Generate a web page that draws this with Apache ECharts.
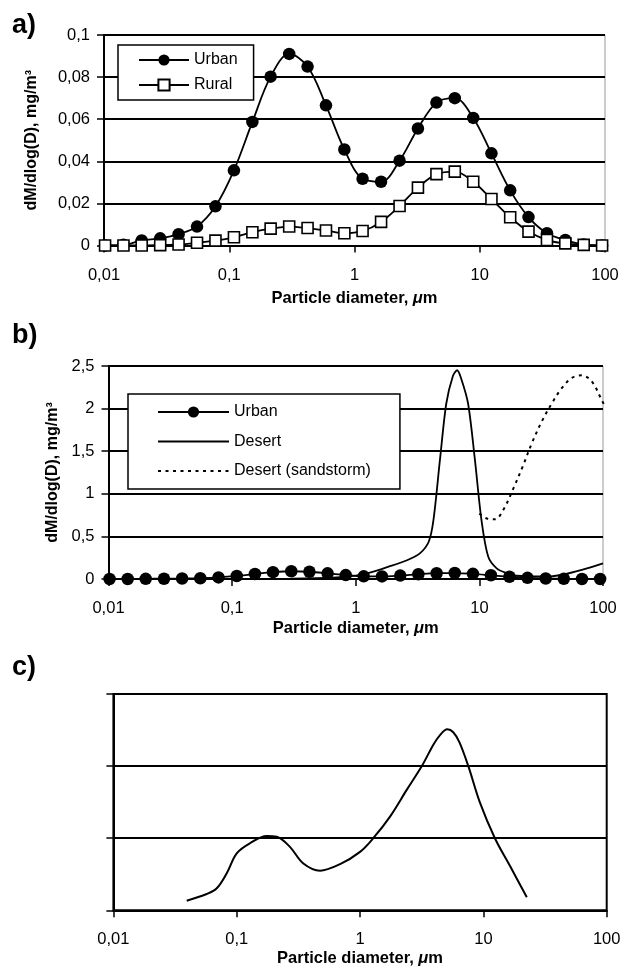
<!DOCTYPE html>
<html><head><meta charset="utf-8">
<script src="https://cdn.jsdelivr.net/npm/echarts@6/dist/echarts.min.js"></script>
<style>html,body{margin:0;padding:0;background:#fff}#c{width:629px;height:969px}</style>
</head><body><div id="c"></div>
<script>
const FONT = "'Liberation Sans', Arial, sans-serif";

// Panel a / b shared diameters (µm)
const diameters = [0.0102, 0.0143, 0.0200, 0.0281, 0.0394, 0.0553, 0.0776, 0.109, 0.153, 0.214, 0.301, 0.422, 0.592, 0.830, 1.16, 1.63, 2.29, 3.21, 4.51, 6.32, 8.87, 12.4, 17.5, 24.5, 34.4, 48.2, 67.6, 94.8];
const urbanValues = [0, 0.0003, 0.0024, 0.0034, 0.0054, 0.009, 0.0186, 0.0357, 0.0587, 0.0802, 0.091, 0.085, 0.0666, 0.0456, 0.0317, 0.0303, 0.0403, 0.0556, 0.0679, 0.0700, 0.0606, 0.0438, 0.0262, 0.0135, 0.0058, 0.0026, 0.0005, 0];
const ruralValues = [0, 0, 0, 0.0002, 0.0005, 0.0013, 0.0023, 0.0039, 0.0063, 0.008, 0.009, 0.0083, 0.0071, 0.0058, 0.0069, 0.0112, 0.0188, 0.0275, 0.0339, 0.0351, 0.0303, 0.0221, 0.0134, 0.0066, 0.0026, 0.001, 0.0003, 0];

// Panel b
const desertX = [0.1, 0.3, 0.7, 1.0, 1.3, 1.8, 2.6, 3.3, 3.9, 4.25, 4.8, 5.4, 6.1, 6.6, 7.1, 8.1, 9.2, 10.4, 11.8, 13.8, 16.7, 20, 30, 36, 100];
const desertValues = [0, 0.005, 0.02, 0.04, 0.075, 0.14, 0.22, 0.30, 0.44, 0.69, 1.4, 2.06, 2.38, 2.45, 2.36, 2.06, 1.4, 0.69, 0.26, 0.125, 0.067, 0.04, 0.03, 0.03, 0.184];
const sandstormX = [10, 11.5, 13.4, 15.6, 18.8, 22.4, 26.5, 32, 38.5, 46.4, 56, 67.3, 81, 97.7, 112.7];
const sandstormValues = [0.77, 0.71, 0.70, 0.81, 1.06, 1.32, 1.59, 1.85, 2.06, 2.24, 2.36, 2.39, 2.32, 2.10, 1.92];

// Panel c
const cX = [0.0393, 0.0571, 0.0689, 0.083, 0.1, 0.128, 0.175, 0.211, 0.27, 0.347, 0.474, 0.689, 1.0, 1.28, 1.75, 2.39, 3.17, 3.94, 4.45, 5.1, 5.7, 6.4, 7.55, 9.4, 12.4, 16.5, 22.5];
const cValues = [0.133, 0.226, 0.305, 0.514, 0.79, 0.93, 1.03, 1.02, 0.88, 0.65, 0.55, 0.64, 0.81, 1.0, 1.30, 1.67, 2.0, 2.30, 2.43, 2.51, 2.47, 2.33, 2.0, 1.49, 1.0, 0.61, 0.18];

const xTickLabels = ['0,01', '0,1', '1', '10', '100'];
const yTitle = 'dM/dlog(D), mg/m³';

const zip = (xs, ys) => xs.map((x, i) => [x, ys[i]]);

function xAxis(gridIndex, nameGap) {
  return {
    type: 'log', logBase: 10, min: 0.01, max: 100, gridIndex,
    name: '{a|Particle diameter, }{b|μ}{a|m}', nameLocation: 'middle', nameGap,
    nameTextStyle: { rich: {
      a: { fontFamily: FONT, fontWeight: 'bold', fontSize: 16.5, color: '#000' },
      b: { fontFamily: FONT, fontWeight: 'bold', fontStyle: 'italic', fontSize: 16.5, color: '#000' } } },
    axisLine: { show: true, lineStyle: { color: '#000', width: 2 } },
    axisTick: { show: true, length: 7, lineStyle: { color: '#000', width: 1.5 } },
    axisLabel: { margin: 21, fontFamily: FONT, fontSize: 16.5, color: '#000',
      formatter: v => xTickLabels[Math.round(Math.log10(v)) + 2] },
    splitLine: { show: false }, minorTick: { show: false }
  };
}
function yAxis(gridIndex, max, interval, showLabels, nameGap) {
  return {
    type: 'value', gridIndex, min: 0, max, interval,
    name: showLabels ? yTitle : '', nameLocation: 'middle', nameGap, nameRotate: 90,
    nameTextStyle: { fontFamily: FONT, fontWeight: 'bold', fontSize: 16, color: '#000' },
    axisLine: { show: true, lineStyle: { color: '#000', width: 2 } },
    axisTick: { show: true, length: 7, lineStyle: { color: '#000', width: 1.5 } },
    axisLabel: { show: showLabels, margin: 14, fontFamily: FONT, fontSize: 16.5, color: '#000',
      formatter: v => String(+v.toFixed(3)).replace('.', ',') },
    splitLine: { show: true, lineStyle: { color: '#000', width: 2 } }
  };
}

const chart = echarts.init(document.getElementById('c'), null, { renderer: 'canvas' });
chart.setOption({
  animation: false,
  backgroundColor: '#fff',
  grid: [
    { left: 104, top: 35, width: 501, height: 210.5, show: true, borderColor: '#999', borderWidth: 1 },
    { left: 108.5, top: 366, width: 494.5, height: 213, show: true, borderColor: '#999', borderWidth: 1 },
    { left: 113.4, top: 694, width: 493.3, height: 216.3, show: true, borderColor: '#000', borderWidth: 2 }
  ],
  xAxis: [xAxis(0, 44), xAxis(1, 41), xAxis(2, 40)],
  yAxis: [yAxis(0, 0.1, 0.02, true, 64), yAxis(1, 2.5, 0.5, true, 46), yAxis(2, 3, 1, false, 40)],
  legend: [
    { data: ['Urban', 'Rural'], left: 118, top: 45, orient: 'vertical', selectedMode: false,
      padding: [7, 16, 7, 20], itemWidth: 50, itemHeight: 14, itemGap: 9,
      borderColor: '#000', borderWidth: 1.5, backgroundColor: '#fff',
      textStyle: { fontFamily: FONT, fontSize: 16, color: '#000' } },
    { data: ['Urban', { name: 'Desert', itemStyle: { opacity: 0 } }, { name: 'Desert (sandstorm)', itemStyle: { opacity: 0 } }],
      left: 128, top: 394, orient: 'vertical', selectedMode: false,
      padding: [10, 29, 10, 29], itemWidth: 71, itemHeight: 14, itemGap: 13.5,
      borderColor: '#000', borderWidth: 1.5, backgroundColor: '#fff',
      textStyle: { fontFamily: FONT, fontSize: 16, color: '#000' } }
  ],
  graphic: [
    { type: 'text', left: 12, top: 12, style: { text: 'a)', font: "bold 27px 'Liberation Sans', Arial", fill: '#000' } },
    { type: 'text', left: 12, top: 322, style: { text: 'b)', font: "bold 27px 'Liberation Sans', Arial", fill: '#000' } },
    { type: 'text', left: 12, top: 654, style: { text: 'c)', font: "bold 27px 'Liberation Sans', Arial", fill: '#000' } }
  ],
  series: [
    { name: 'Urban', type: 'line', xAxisIndex: 0, yAxisIndex: 0, data: zip(diameters, urbanValues),
      smooth: 0.35, symbol: 'circle', symbolSize: 12.5, color: '#000',
      itemStyle: { color: '#000' }, lineStyle: { color: '#000', width: 1.8 }, emphasis: { disabled: true } },
    { name: 'Rural', type: 'line', xAxisIndex: 0, yAxisIndex: 0, data: zip(diameters, ruralValues),
      smooth: 0.35, symbol: 'rect', symbolSize: 11, color: '#000',
      itemStyle: { color: '#fff', borderColor: '#000', borderWidth: 1.6 }, lineStyle: { color: '#000', width: 1.8 }, emphasis: { disabled: true } },
    { name: 'Desert', type: 'line', xAxisIndex: 1, yAxisIndex: 1, data: zip(desertX, desertValues),
      smooth: 0.3, symbol: 'none', color: '#000', lineStyle: { color: '#000', width: 1.8 }, emphasis: { disabled: true }, z: 2 },
    { name: 'Desert (sandstorm)', type: 'line', xAxisIndex: 1, yAxisIndex: 1, data: zip(sandstormX, sandstormValues),
      smooth: 0.35, symbol: 'none', clip: false, color: '#000', lineStyle: { color: '#000', width: 2, type: [3, 4.5] }, emphasis: { disabled: true }, z: 2 },
    { name: 'Urban', type: 'line', xAxisIndex: 1, yAxisIndex: 1, data: zip(diameters, urbanValues),
      smooth: 0.35, symbol: 'circle', symbolSize: 12.5, color: '#000',
      itemStyle: { color: '#000' }, lineStyle: { color: '#000', width: 1.8 }, emphasis: { disabled: true }, z: 3 },
    { name: 'Size distribution', type: 'line', xAxisIndex: 2, yAxisIndex: 2, data: zip(cX, cValues),
      smooth: 0.35, symbol: 'none', color: '#000', lineStyle: { color: '#000', width: 2 }, emphasis: { disabled: true } }
  ]
});
</script></body></html>
